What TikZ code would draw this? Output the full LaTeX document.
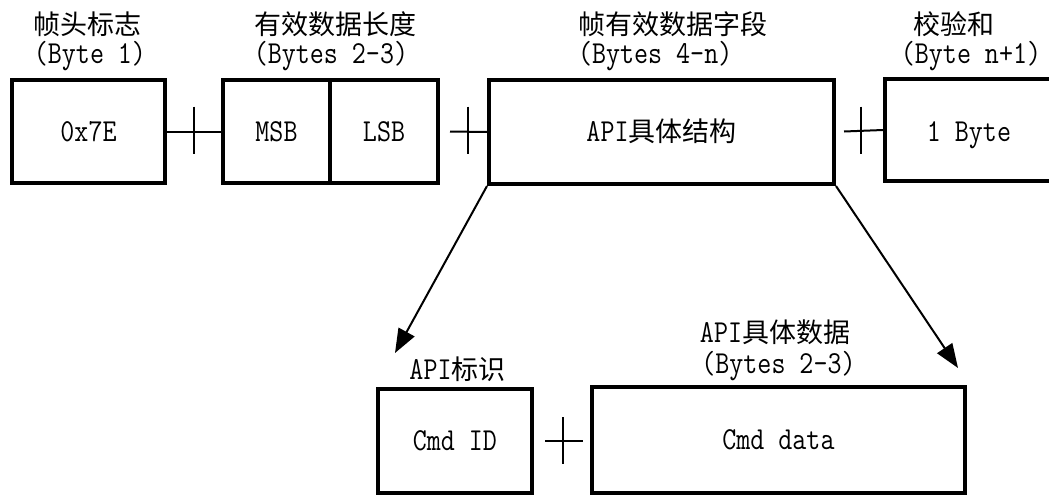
\documentclass[tikz,border=0pt]{standalone}
\usepackage{fontspec}
\setmainfont{Latin Modern Mono}[FakeStretch=0.85]
\newfontfamily\cjk{Noto Sans CJK SC}
\newcommand\zhtxt[1]{{\cjk\fontsize{27pt}{30pt}\selectfont #1}}
\usetikzlibrary{arrows.meta,calc}
\tikzset{
 box/.style={draw, line width=4pt, inner sep=0pt, text height=19pt, text depth=0pt, align=center},
 lbl/.style={anchor=base, inner sep=0pt},
 plusline/.style={line width=2pt},
 arr/.style={line width=2pt, -{Triangle[length=24pt,width=18pt]}}
}
\begin{document}
\begin{tikzpicture}[x=1pt,y=-1pt,font=\fontsize{32pt}{34pt}\selectfont]
\useasboundingbox[fill=white] (0,0) rectangle (1049,498);
% top row boxes
\node[box, minimum width=153pt, minimum height=103pt] (b1) at (88.5,131.5) {0x7E};
\node[box, minimum width=107pt, minimum height=103pt] (msb) at (276.5,131.5) {MSB};
\node[box, minimum width=108pt, minimum height=103pt] (lsb) at (384,131.5) {LSB};
\node[box, minimum width=345pt, minimum height=104pt] (b3) at (661.5,132) {API\zhtxt{具体结构}};
\node[box, minimum width=215pt, minimum height=102pt] (b4) at (992.5,130) {};
\node[lbl] (t4) at (969,141) {1 Byte};
% bottom row boxes
\node[box, minimum width=154pt, minimum height=104pt] (b5) at (455,441) {Cmd ID};
\node[box, minimum width=373pt, minimum height=106pt] (b6) at (778.5,440) {Cmd data};
% labels
\node[lbl] (l1a) at (87.5,34) {\zhtxt{帧头标志}};
\node[lbl] (l1b) at (90,63) {(Byte 1)};
\node[lbl] (l2a) at (335,34) {\zhtxt{有效数据长度}};
\node[lbl] (l2b) at (331,63) {(Bytes 2-3)};
\node[lbl, anchor=base west] (l3a) at (578,34) {\zhtxt{帧有效数据字段}};
\node[lbl, anchor=base west] (l3b) at (578,63) {(Bytes 4-n)};
\node[lbl] (l4a) at (953.5,34) {\zhtxt{校验和}};
\node[lbl] (l4b) at (971,63) {(Byte n+1)};
\node[lbl] (l5) at (457.5,379) {API\zhtxt{标识}};
\node[lbl] (l6a) at (775,342) {API\zhtxt{具体数据}};
\node[lbl] (l6b) at (778.5,373) {(Bytes 2-3)};
% plus signs
\draw[plusline] (b1.east) -- (msb.west);
\draw[plusline] ($(b1.east)!0.5!(msb.west)$) +(0,-25) -- +(0,22);
\coordinate (p2) at (468,131.5);
\draw[plusline] (450,131.5) -- (b3.west);
\draw[plusline] (p2) +(0,-25) -- +(0,22);
\coordinate (p3) at (861,131.5);
\draw[plusline] (844,131.5) -- (b4.west);
\draw[plusline] (p3) +(0,-25) -- +(0,22);
\coordinate (p4) at (563,441);
\draw[plusline] (p4) +(-18,0) -- +(20,0);
\draw[plusline] (p4) +(0,-24) -- +(0,23);
% arrows
\coordinate (tip1) at (395,353);
\coordinate (tip2) at (958,368);
\draw[arr] (b3.south west) -- (tip1);
\draw[arr] (b3.south east) -- (tip2);
\end{tikzpicture}
\end{document}
